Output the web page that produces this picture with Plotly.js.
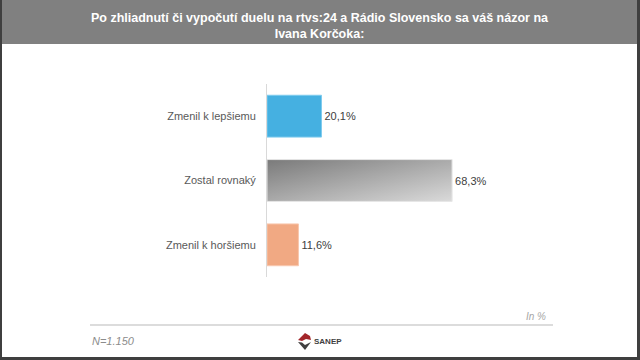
<!DOCTYPE html>
<html><head><meta charset="utf-8">
<script src="https://cdn.plot.ly/plotly-3.0.1.min.js"></script>
<style>
html,body{margin:0;padding:0;background:#3f3f3f;width:640px;height:360px;overflow:hidden}
#chart{position:absolute;left:2px;top:0;width:635px;height:357px;background:#fff}
</style></head>
<body><div id="chart"></div>
<script>
const categories = ['Zmenil k lepšiemu', 'Zostal rovnaký', 'Zmenil k horšiemu'];
const values = [20.1, 68.3, 11.6];
const barColors = ['#45B0E1', '#A6A6A6', '#F1A983'];
const edgeColors = ['#7fcbee', '#e6e6e6', '#f8c7ae'];
const titleText = 'Po zhliadnutí či vypočutí duelu na rtvs:24 a Rádio Slovensko sa váš názor na<br>Ivana Korčoka:';
const sampleNote = 'N=1.150';
const unitNote = 'In %';

const W = 635, H = 357, L = 265, T = 84, PW = 271, PH = 193;
const X = px => (px - 2 - L) / PW;
const Y = py => 1 - (py - T) / PH;

const trace = {
  type: 'bar', orientation: 'h',
  y: categories, x: values,
  width: 0.65,
  marker: {color: barColors, line: {color: edgeColors, width: 1}},
  texttemplate: '%{x:.1f}%', textposition: 'outside', cliponaxis: false,
  textfont: {family: 'Liberation Sans, Arial, sans-serif', size: 11, color: '#404040'},
  hoverinfo: 'none'
};

const layout = {
  width: W, height: H,
  margin: {l: L, r: W - L - PW, t: T, b: H - T - PH, pad: 0},
  paper_bgcolor: '#ffffff', plot_bgcolor: '#ffffff',
  separators: ',.',
  showlegend: false,
  title: {
    text: titleText,
    font: {family: 'Liberation Sans, Arial, sans-serif', size: 12.5, color: '#ffffff', weight: 'bold'},
    x: 0.5, xanchor: 'center', xref: 'container',
    y: 1 - 22 / H, yanchor: 'middle', yref: 'container'
  },
  xaxis: {range: [0, 100], showgrid: false, zeroline: false, showticklabels: false, showline: false, fixedrange: true},
  yaxis: {range: [2.5, -0.5], showgrid: false, zeroline: false, showline: true, linecolor: '#d9d9d9', linewidth: 1,
          ticks: '', ticklabelstandoff: 8,
          tickfont: {family: 'Liberation Sans, Arial, sans-serif', size: 11, color: '#595959'}, fixedrange: true},
  shapes: [
    {type: 'rect', xref: 'paper', yref: 'paper', x0: X(0), x1: X(640), y0: Y(44), y1: Y(-2),
     fillcolor: '#808080', line: {width: 0}, layer: 'below'},
    {type: 'line', xref: 'paper', yref: 'paper', x0: X(90), x1: X(553), y0: Y(325), y1: Y(325),
     line: {color: '#d0d0d0', width: 1.5}},
    // SANEP logo
    {type: 'path', xref: 'paper', yref: 'paper',
     path: `M ${X(298)} ${Y(340)} L ${X(305)} ${Y(333)} L ${X(310)} ${Y(336)} L ${X(311)} ${Y(340)} L ${X(306)} ${Y(339)} L ${X(302)} ${Y(341)} Z`,
     fillcolor: '#a3262a', line: {width: 0}},
    {type: 'path', xref: 'paper', yref: 'paper',
     path: `M ${X(298)} ${Y(342)} L ${X(302)} ${Y(342.5)} L ${X(305)} ${Y(345)} L ${X(309)} ${Y(343)} L ${X(311)} ${Y(342)} L ${X(305)} ${Y(350)} Z`,
     fillcolor: '#404040', line: {width: 0}}
  ],
  annotations: [
    {text: unitNote, xref: 'paper', yref: 'paper', x: X(548), y: Y(316), xanchor: 'right', yanchor: 'middle',
     showarrow: false, font: {family: 'Liberation Sans, Arial, sans-serif', size: 10, color: '#a6a6a6', style: 'italic'}},
    {text: sampleNote, xref: 'paper', yref: 'paper', x: X(90), y: Y(341), xanchor: 'left', yanchor: 'middle',
     showarrow: false, font: {family: 'Liberation Sans, Arial, sans-serif', size: 11, color: '#8c8c8c', style: 'italic'}},
    {text: '<b>SANEP</b>', xref: 'paper', yref: 'paper', x: X(312), y: Y(341), xanchor: 'left', yanchor: 'middle',
     showarrow: false, font: {family: 'Liberation Sans, Arial, sans-serif', size: 8, color: '#404040'}}
  ]
};

Plotly.newPlot('chart', [trace], layout, {staticPlot: true, displayModeBar: false}).then(gd => {
  const svg = gd.querySelector('svg.main-svg');
  const NS = 'http://www.w3.org/2000/svg';
  let defs = svg.querySelector('defs');
  if (!defs) { defs = document.createElementNS(NS, 'defs'); svg.insertBefore(defs, svg.firstChild); }
  const g = document.createElementNS(NS, 'linearGradient');
  g.setAttribute('id', 'grayGrad');
  g.setAttribute('x1', '0'); g.setAttribute('y1', '0'); g.setAttribute('x2', '1'); g.setAttribute('y2', '1');
  [['0', '#7a7a7a'], ['1', '#dadada']].forEach(([o, c]) => {
    const s = document.createElementNS(NS, 'stop');
    s.setAttribute('offset', o); s.setAttribute('stop-color', c); g.appendChild(s);
  });
  defs.appendChild(g);
  const pts = gd.querySelectorAll('.trace.bars .point path');
  if (pts[1]) pts[1].style.fill = 'url(#grayGrad)';
});
</script></body></html>
